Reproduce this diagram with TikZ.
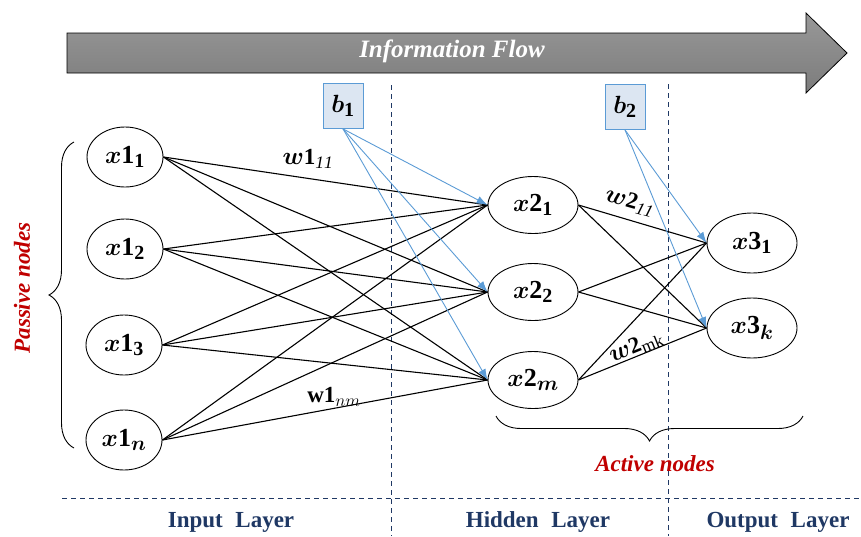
\documentclass[tikz,border=0pt]{standalone}
\usepackage{amsmath}
\usepackage{bm}
\usepackage{fontspec}
\setmainfont{Liberation Serif}
\usetikzlibrary{arrows.meta,decorations.pathreplacing,shapes.geometric}

% larger subscripts for the node and weight labels
\DeclareMathSizes{26}{26}{20}{15}
\DeclareMathSizes{23}{23}{17.5}{13}

\definecolor{navy}{RGB}{31,56,100}
\definecolor{actred}{RGB}{192,0,0}
\definecolor{biasblue}{RGB}{91,155,213}
\definecolor{biasfill}{RGB}{220,230,242}
\definecolor{flowtop}{RGB}{152,152,152}
\definecolor{flowbot}{RGB}{124,124,124}

\begin{document}
\begin{tikzpicture}[x=1pt,y=-1pt,
  neuron/.style={draw,ellipse,inner sep=0pt,line width=0.9pt,
    font=\fontsize{26}{30}\selectfont},
  inneuron/.style={neuron,minimum width=76pt,minimum height=60pt},
  hidneuron/.style={neuron,minimum width=90pt,minimum height=57pt},
  outneuron/.style={neuron,minimum width=90pt,minimum height=60pt},
  biasbox/.style={draw=biasblue,fill=biasfill,line width=0.8pt,
    minimum width=40pt,minimum height=45pt,inner sep=0pt,
    font=\fontsize{26}{30}\selectfont},
  weight/.style={draw=black,line width=1.1pt},
  biasarrow/.style={draw=biasblue,line width=0.9pt,
    -{Latex[length=11pt,width=8pt]}},
  wlabel/.style={inner sep=0pt,font=\fontsize{23}{26}\selectfont},
  divider/.style={draw=navy,line width=0.9pt,dash pattern=on 5pt off 4pt},
  layername/.style={text=navy,font=\fontsize{23}{26}\selectfont\bfseries},
  groupname/.style={text=actred,font=\fontsize{23}{26}\selectfont\bfseries\itshape},
  groupbrace/.style={draw,line width=0.9pt,decorate,
    decoration={brace,amplitude=25pt}}
]
\useasboundingbox (0,0) rectangle (861,536);

% information flow arrow
\path[draw=black,line width=0.8pt,top color=flowtop,bottom color=flowbot]
  (67,33) -- (806,33) -- (806,13) -- (847,53) -- (806,93) -- (806,73)
  -- (67,73) -- cycle;
\node[text=white,font=\fontsize{25}{28}\selectfont\bfseries\itshape]
  (flow) at (452,51) {Information Flow};

% layer dividers
\draw[divider] (62,498) -- (861,498);
\draw[divider] (391,85) -- (391,536);
\draw[divider] (668,84) -- (668,536);

% neurons
\node[inneuron] (a1) at (125,157) {$\bm{x}\mathbf{1}_{\mathbf{1}}$};
\node[inneuron] (a2) at (125,249) {$\bm{x}\mathbf{1}_{\mathbf{2}}$};
\node[inneuron] (a3) at (124,345) {$\bm{x}\mathbf{1}_{\mathbf{3}}$};
\node[inneuron] (an) at (124,440) {$\bm{x}\mathbf{1}_{\bm{n}}$};

\node[hidneuron] (h1) at (533,205) {$\bm{x}\mathbf{2}_{\mathbf{1}}$};
\node[hidneuron] (h2) at (533,292) {$\bm{x}\mathbf{2}_{\mathbf{2}}$};
\node[hidneuron] (hm) at (533,380) {$\bm{x}\mathbf{2}_{\bm{m}}$};

\node[outneuron] (o1) at (752,243) {$\bm{x}\mathbf{3}_{\mathbf{1}}$};
\node[outneuron] (ok) at (752,328) {$\bm{x}\mathbf{3}_{\bm{k}}$};

% bias units
\node[biasbox] (b1) at (343,106) {$\bm{b}_{\mathbf{1}}$};
\node[biasbox] (b2) at (625,107) {$\bm{b}_{\mathbf{2}}$};

% input -> hidden weights
\foreach \i in {a1,a2,a3,an}
  \foreach \j in {h1,h2,hm}
    \draw[weight] (\i.east) -- (\j.west);

% hidden -> output weights
\foreach \i in {h1,h2,hm}
  \foreach \j in {o1,ok}
    \draw[weight] (\i.east) -- (\j.west);

% bias connections
\foreach \j in {h1,h2,hm}
  \draw[biasarrow] (b1.south) -- (\j.west);
\foreach \j in {o1,ok}
  \draw[biasarrow] (b2.south) -- (\j.west);

% weight labels
\node[wlabel] (w111) at (308,159) {$\bm{w}\mathbf{1}_{\mathit{11}}$};
\node[wlabel] (w1nm) at (334,397) {$\mathbf{w}\mathbf{1}_{nm}$};
\node[wlabel,rotate=-16] (w211) at (630,202) {$\bm{w}\mathbf{2}_{\mathit{11}}$};
\node[wlabel,rotate=22] (w2mk) at (636,347) {$\bm{w}\mathbf{2}_{\mathrm{mk}}$};

% grouping braces
\draw[groupbrace] (74,448) -- (74,142);
\node[groupname,rotate=90] (passive) at (22,288) {Passive nodes};
\draw[groupbrace] (803,416) -- (496,416);
\node[groupname] (active) at (655,464) {Active nodes};

% layer names
\node[layername] (inl) at (231,522) {Input\hspace{0.3em} Layer};
\node[layername] (hidl) at (538,522) {Hidden\hspace{0.3em} Layer};
\node[layername] (outl) at (778,522) {Output\hspace{0.3em} Layer};
\end{tikzpicture}
\end{document}
